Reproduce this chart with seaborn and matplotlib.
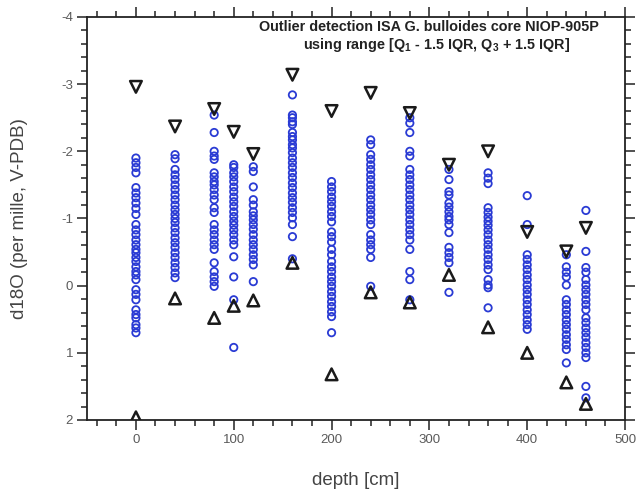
import numpy as np
import pandas as pd
import matplotlib
matplotlib.use("Agg")
import matplotlib.pyplot as plt
from matplotlib.ticker import MultipleLocator
import seaborn as sns

# Sample depths (cm)
depths = [0, 40, 80, 100, 120, 160, 200, 240, 280, 320, 360, 400, 440, 460]

# d18O measurements per depth (per mille, V-PDB)
d0 = [-1.9, -1.83, -1.76, -1.68, -1.46, -1.38, -1.31, -1.23, -1.15, -1.06, -0.91, -0.83, -0.76,
      -0.68, -0.61, -0.54, -0.49, -0.42, -0.36, -0.28, -0.21, -0.16, -0.09, 0.06, 0.13, 0.21,
      0.36, 0.43, 0.48, 0.58, 0.63, 0.7]
d40 = [-1.95, -1.89, -1.73, -1.65, -1.58, -1.5, -1.43, -1.35, -1.28, -1.2, -1.13, -1.06, -1.0,
       -0.94, -0.86, -0.79, -0.71, -0.64, -0.57, -0.49, -0.42, -0.34, -0.27, -0.19, -0.12]
d80 = [-2.54, -2.28, -2.0, -1.93, -1.88, -1.68, -1.62, -1.55, -1.5, -1.43, -1.35, -1.28, -1.16,
       -1.09, -0.91, -0.83, -0.76, -0.68, -0.61, -0.54, -0.34, -0.21, -0.13, -0.06, 0.01]
d100 = [-1.8, -1.76, -1.68, -1.62, -1.55, -1.47, -1.4, -1.32, -1.25, -1.18, -1.1, -1.03, -0.96,
        -0.9, -0.83, -0.76, -0.68, -0.61, -0.43, -0.13, 0.21, 0.92]
d120 = [-1.77, -1.7, -1.47, -1.28, -1.2, -1.1, -1.04, -0.98, -0.91, -0.84, -0.76, -0.68, -0.61,
        -0.54, -0.46, -0.39, -0.31, -0.06]
d160 = [-2.84, -2.54, -2.5, -2.44, -2.4, -2.28, -2.22, -2.17, -2.1, -2.05, -1.98, -1.9, -1.83,
        -1.76, -1.68, -1.61, -1.53, -1.46, -1.38, -1.31, -1.24, -1.16, -1.09, -1.01, -0.91,
        -0.73, -0.4]
d200 = [-1.55, -1.47, -1.4, -1.32, -1.25, -1.18, -1.1, -1.03, -0.95, -0.8, -0.73, -0.65, -0.54,
        -0.46, -0.36, -0.28, -0.21, -0.13, -0.06, 0.01, 0.09, 0.16, 0.24, 0.31, 0.39, 0.46, 0.7]
d240 = [-2.17, -2.1, -1.95, -1.88, -1.8, -1.73, -1.65, -1.58, -1.5, -1.43, -1.35, -1.28, -1.2,
        -1.13, -1.06, -0.98, -0.91, -0.76, -0.68, -0.61, -0.54, -0.42, 0.01]
d280 = [-2.5, -2.42, -2.28, -2.0, -1.93, -1.73, -1.65, -1.58, -1.5, -1.43, -1.35, -1.28, -1.2,
        -1.13, -1.06, -0.98, -0.91, -0.83, -0.76, -0.68, -0.54, -0.21, -0.09, 0.21]
d320 = [-1.73, -1.58, -1.4, -1.35, -1.23, -1.17, -1.1, -1.03, -0.98, -0.91, -0.79, -0.57, -0.49,
        -0.42, -0.34, 0.1]
d360 = [-1.68, -1.6, -1.52, -1.16, -1.09, -1.02, -0.96, -0.9, -0.83, -0.76, -0.68, -0.61, -0.54,
        -0.46, -0.39, -0.31, -0.24, -0.09, -0.01, 0.03, 0.33]
d400 = [-1.34, -0.91, -0.46, -0.39, -0.31, -0.24, -0.16, -0.09, -0.01, 0.06, 0.13, 0.21, 0.28,
        0.36, 0.43, 0.51, 0.58, 0.65]
d440 = [-0.46, -0.28, -0.2, -0.13, -0.01, 0.21, 0.28, 0.36, 0.43, 0.51, 0.58, 0.65, 0.73, 0.8,
        0.88, 0.95, 1.15]
d460 = [-1.12, -0.51, -0.27, -0.2, -0.09, -0.01, 0.06, 0.13, 0.21, 0.28, 0.36, 0.48, 0.55, 0.63,
        0.7, 0.77, 0.85, 0.92, 1.0, 1.07, 1.5, 1.67]
measurements = [d0, d40, d80, d100, d120, d160, d200, d240, d280, d320, d360, d400, d440, d460]

# Outlier bounds per depth: Q3 + 1.5 IQR (upper) and Q1 - 1.5 IQR (lower), on the d18O scale
upper_bound = [-2.96, -2.37, -2.63, -2.29, -1.96, -3.14, -2.6, -2.87, -2.57, -1.8, -2.0, -0.8,
               -0.51, -0.86]
lower_bound = [1.96, 0.19, 0.48, 0.3, 0.22, -0.34, 1.32, 0.1, 0.25, -0.16, 0.62, 1.0, 1.44, 1.76]

points = pd.DataFrame(
    [(d, v) for d, vals in zip(depths, measurements) for v in vals],
    columns=["depth", "d18O"],
)
bounds = pd.DataFrame({"depth": depths, "upper": upper_bound, "lower": lower_bound})

sns.set_style("white")
plt.rcParams["font.family"] = ["Liberation Sans", "DejaVu Sans"]
plt.rcParams["axes.unicode_minus"] = False
plt.rcParams["mathtext.default"] = "regular"

fig = plt.figure(figsize=(6.37, 4.94), dpi=100)
ax = fig.add_axes([0.1366, 0.1498, 0.8446, 0.8158])

sns.scatterplot(data=points, x="depth", y="d18O", ax=ax, marker="o", s=28,
                facecolor="none", edgecolor="#2a3bd4", linewidth=1.3, zorder=3)
sns.scatterplot(data=bounds, x="depth", y="upper", ax=ax, marker="v", s=70,
                facecolor="none", edgecolor="#1a1a1a", linewidth=1.8, zorder=4)
sns.scatterplot(data=bounds, x="depth", y="lower", ax=ax, marker="^", s=70,
                facecolor="none", edgecolor="#1a1a1a", linewidth=1.8, zorder=4)

ax.set_xlim(-50, 500)
ax.set_ylim(2, -4)
ax.xaxis.set_major_locator(MultipleLocator(100))
ax.xaxis.set_minor_locator(MultipleLocator(20))
ax.yaxis.set_major_locator(MultipleLocator(1))
ax.yaxis.set_minor_locator(MultipleLocator(0.2))

for side in ["left", "right", "top", "bottom"]:
    ax.spines[side].set_visible(True)
    ax.spines[side].set_color("#222222")
    ax.spines[side].set_linewidth(1.3)

ax.tick_params(which="both", direction="out", top=True, right=True, bottom=True, left=True,
               labeltop=False, labelright=False, color="#222222", width=1.1)
ax.tick_params(which="major", length=7, labelsize=9.5, labelcolor="#5a5a5a", pad=3)
ax.tick_params(which="minor", length=4)

ax.set_xlabel("depth [cm]", fontsize=13.5, color="#444444", labelpad=19)
ax.set_ylabel("d18O (per mille, V-PDB)", fontsize=13.5, color="#444444", labelpad=24)

ax.text(0.636, 0.975, "Outlier detection ISA G. bulloides core NIOP-905P",
        transform=ax.transAxes, ha="center", va="center", fontsize=10.4, fontweight="bold",
        color="#222222")
ax.text(0.65, 0.93, "using range [Q$_1$ - 1.5 IQR, Q$_3$ + 1.5 IQR]",
        transform=ax.transAxes, ha="center", va="center", fontsize=10.4, fontweight="bold",
        color="#222222")

fig.savefig("out.png", dpi=100, facecolor="white")
